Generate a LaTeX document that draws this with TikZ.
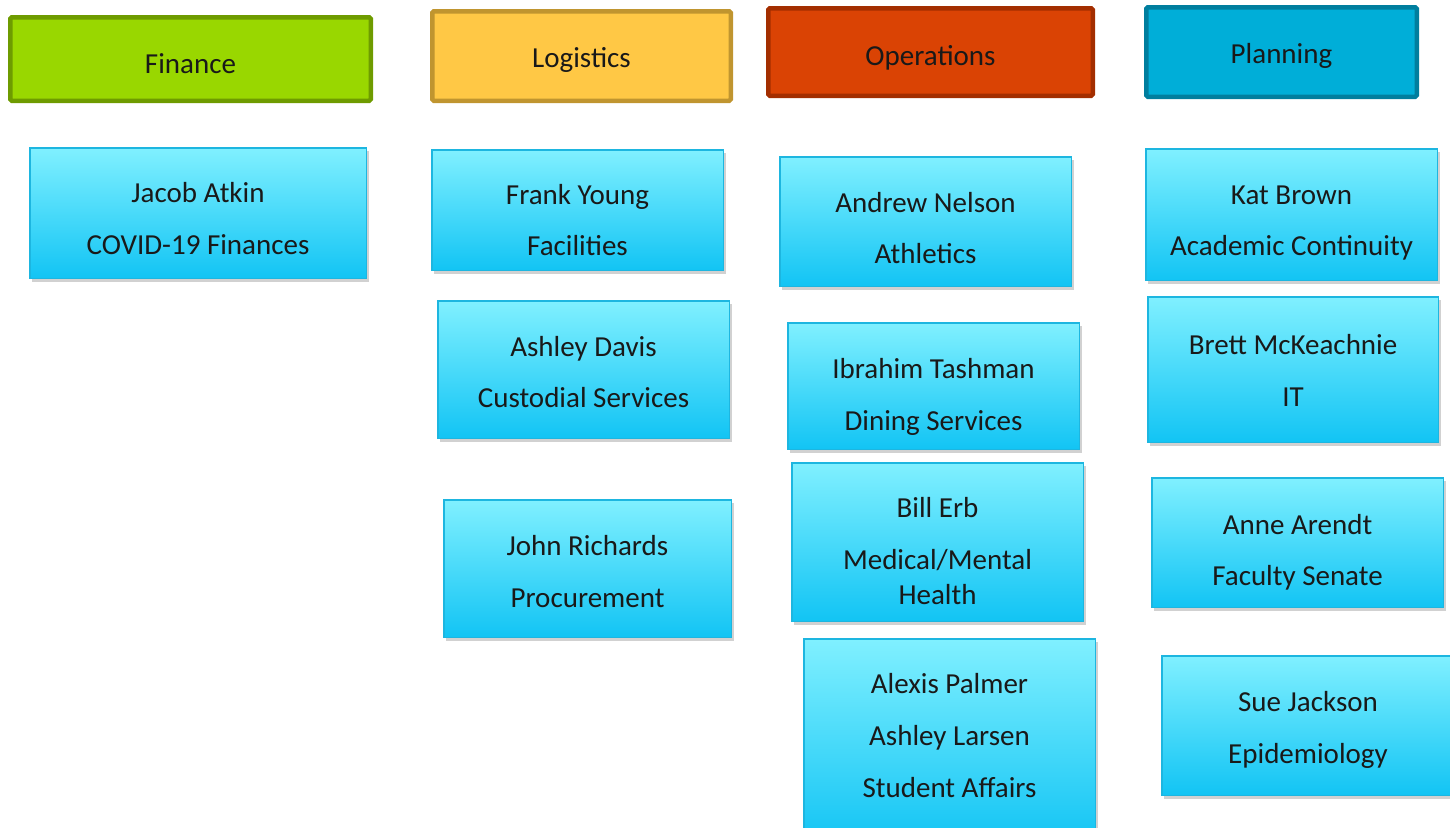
\documentclass[tikz,border=0pt]{standalone}
\usepackage{fontspec}
\setmainfont{Carlito}
\usetikzlibrary{shadows}
\definecolor{finfill}{HTML}{99D700}
\definecolor{findraw}{HTML}{6E9B00}
\definecolor{logfill}{HTML}{FFC845}
\definecolor{logdraw}{HTML}{C0952F}
\definecolor{opsfill}{HTML}{DA4304}
\definecolor{opsdraw}{HTML}{A32E00}
\definecolor{plnfill}{HTML}{00AED8}
\definecolor{plndraw}{HTML}{007E9E}
\definecolor{boxtop}{HTML}{80F0FF}
\definecolor{boxbot}{HTML}{12C4F4}
\definecolor{boxline}{HTML}{1DB6E0}
\tikzset{
  headbox/.style={line width=4.5pt, rounded corners=1.5pt, inner sep=0pt},
  bluebox/.style={draw=boxline, line width=1.5pt, top color=boxtop, bottom color=boxbot, inner sep=0pt,
    drop shadow={shadow xshift=2.5pt, shadow yshift=-3.5pt, opacity=0.3, fill=black!60}},
  txt/.style={anchor=base, font=\fontsize{29}{34}\selectfont, inner sep=0pt, text=black!90}
}
% name, x1, y1, x2, y2, fill, draw, text, baseline
\newcommand\headrect[9]{%
  \node[headbox, fill=#6, draw=#7, minimum width={(#4-#2-4.5)*1pt}, minimum height={(#5-#3-4.5)*1pt}]
    (#1) at ({(#2+#4)/2},{(#3+#5)/2}) {};
  \node[txt] (#1-t) at ({(#2+#4)/2},#9) {#8};
}
% name, x1, y1, x2, y2
\newcommand\pbox[5]{%
  \node[bluebox, minimum width={(#4-#2-1.5)*1pt}, minimum height={(#5-#3-1.5)*1pt}]
    (#1) at ({(#2+#4)/2},{(#3+#5)/2}) {};
}
% name, baseline, text
\newcommand\pline[3]{%
  \node[txt] at (#1.center |- 0,#2) {#3};
}
\begin{document}
\begin{tikzpicture}[x=1pt,y=-1pt]
\useasboundingbox (0,0) rectangle (1450,827);
\clip (0,0) rectangle (1450,827);
\headrect{fin}{8}{15}{373}{103}{finfill}{findraw}{Finance}{73}
\headrect{log}{430}{9}{733}{103}{logfill}{logdraw}{Logistics}{67}
\headrect{ops}{766}{6}{1095}{98}{opsfill}{opsdraw}{Operations}{65}
\headrect{pln}{1144}{5}{1419}{99}{plnfill}{plndraw}{Planning}{63}

\pbox{jacob}{29}{147}{367}{279}
\pline{jacob}{202}{Jacob Atkin}
\pline{jacob}{254}{COVID-19 Finances}

\pbox{frank}{431}{149}{724}{271}
\pline{frank}{204}{Frank Young}
\pline{frank}{255}{Facilities}

\pbox{ashley}{437}{300}{730}{439}
\pline{ashley}{356}{Ashley Davis}
\pline{ashley}{407}{Custodial Services}

\pbox{john}{443}{499}{732}{638}
\pline{john}{555}{John Richards}
\pline{john}{607}{Procurement}

\pbox{andrew}{779}{156}{1072}{287}
\pline{andrew}{212}{Andrew Nelson}
\pline{andrew}{263}{Athletics}

\pbox{ibrahim}{787}{322}{1080}{450}
\pline{ibrahim}{378}{Ibrahim Tashman}
\pline{ibrahim}{430}{Dining Services}

\pbox{bill}{791}{462}{1084}{622}
\pline{bill}{517}{Bill Erb}
\pline{bill}{569}{Medical/Mental}
\pline{bill}{604}{Health}

\pbox{alexis}{803}{638}{1096}{845}
\pline{alexis}{693}{Alexis Palmer}
\pline{alexis}{745}{Ashley Larsen}
\pline{alexis}{797}{Student Affairs}

\pbox{kat}{1145}{148}{1438}{281}
\pline{kat}{204}{Kat Brown}
\pline{kat}{255}{Academic Continuity}

\pbox{brett}{1147}{296}{1439}{443}
\pline{brett}{354}{Brett McKeachnie}
\pline{brett}{406}{IT}

\pbox{anne}{1151}{477}{1444}{608}
\pline{anne}{534}{Anne Arendt}
\pline{anne}{585}{Faculty Senate}

\pbox{sue}{1161}{655}{1455}{796}
\pline{sue}{711}{Sue Jackson}
\pline{sue}{763}{Epidemiology}
\end{tikzpicture}
\end{document}
